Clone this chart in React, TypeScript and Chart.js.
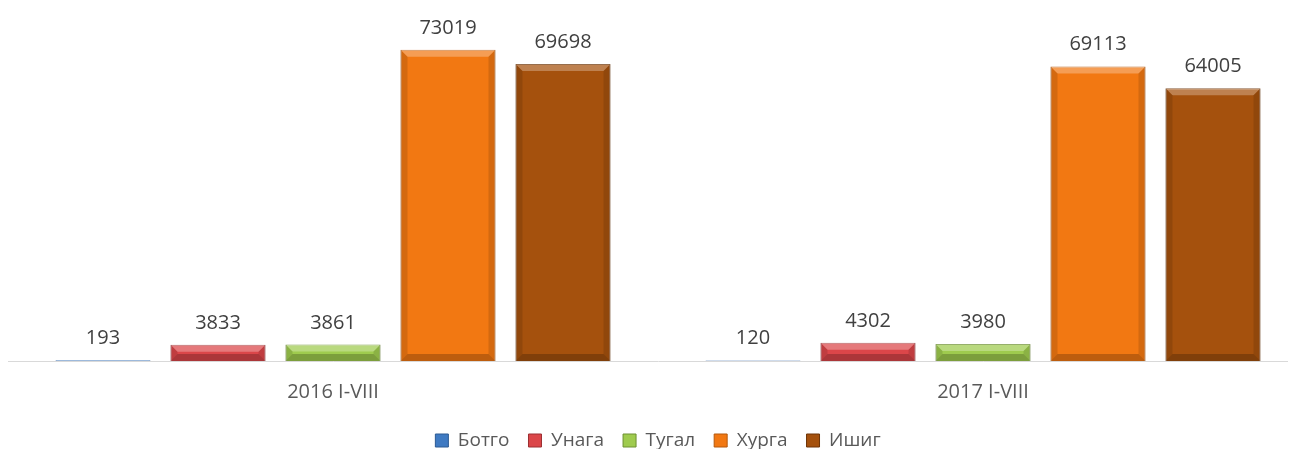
import React, { useEffect, useRef } from "react";
import { Chart, registerables } from "chart.js";

Chart.register(...registerables);

const categories = ["2016 I-VIII", "2017 I-VIII"];
const seriesNames = ["Ботго", "Унага", "Тугал", "Хурга", "Ишиг"];
const botgo = [193, 120];
const unaga = [3833, 4302];
const tugal = [3861, 3980];
const khurga = [73019, 69113];
const ishig = [69698, 64005];
const seriesColors = ["#3F7AC2", "#DB4649", "#9FCB4E", "#F27812", "#A5510D"];
const borderColors = ["#2C5A93", "#9C2F32", "#6E9132", "#B5580C", "#6E3508"];

const bevel = {
  id: "bevel",
  afterDatasetsDraw(chart: any) {
    const ctx = chart.ctx;
    ctx.save();
    chart.data.datasets.forEach((_ds: any, di: number) => {
      const meta = chart.getDatasetMeta(di);
      meta.data.forEach((el: any) => {
        const w = el.width;
        const l = el.x - w / 2;
        const r = el.x + w / 2;
        const t = Math.min(el.y, el.base);
        const b = Math.max(el.y, el.base);
        const h = b - t;
        if (h < 2) return;
        const s = Math.min(7, h / 2);
        // top highlight
        ctx.fillStyle = "rgba(255,255,255,0.28)";
        ctx.beginPath();
        ctx.moveTo(l, t);
        ctx.lineTo(r, t);
        ctx.lineTo(r - s, t + s);
        ctx.lineTo(l + s, t + s);
        ctx.closePath();
        ctx.fill();
        // sides
        ctx.fillStyle = "rgba(0,0,0,0.12)";
        ctx.beginPath();
        ctx.moveTo(l, t);
        ctx.lineTo(l + s, t + s);
        ctx.lineTo(l + s, b - s);
        ctx.lineTo(l, b);
        ctx.closePath();
        ctx.fill();
        ctx.beginPath();
        ctx.moveTo(r, t);
        ctx.lineTo(r - s, t + s);
        ctx.lineTo(r - s, b - s);
        ctx.lineTo(r, b);
        ctx.closePath();
        ctx.fill();
        // bottom shade
        ctx.fillStyle = "rgba(0,0,0,0.22)";
        ctx.beginPath();
        ctx.moveTo(l, b);
        ctx.lineTo(r, b);
        ctx.lineTo(r - s, b - s);
        ctx.lineTo(l + s, b - s);
        ctx.closePath();
        ctx.fill();
      });
    });
    ctx.restore();
  },
};

const valueLabels = {
  id: "valueLabels",
  afterDatasetsDraw(chart: any) {
    const ctx = chart.ctx;
    ctx.save();
    ctx.font = "20px 'Open Sans'";
    ctx.fillStyle = "#404040";
    ctx.textAlign = "center";
    ctx.textBaseline = "alphabetic";
    chart.data.datasets.forEach((ds: any, di: number) => {
      const meta = chart.getDatasetMeta(di);
      meta.data.forEach((el: any, i: number) => {
        ctx.fillText(String(ds.data[i]), el.x, el.y - 16);
      });
    });
    ctx.restore();
  },
};

export default function App() {
  const ref = useRef<HTMLCanvasElement>(null);
  useEffect(() => {
    if (!ref.current) return;
    const values = [botgo, unaga, tugal, khurga, ishig];
    const chart = new Chart(ref.current, {
      type: "bar",
      data: {
        labels: categories,
        datasets: seriesNames.map((name, i) => ({
          label: name,
          data: values[i],
          backgroundColor: seriesColors[i],
          borderColor: borderColors[i],
          borderWidth: 1,
          categoryPercentage: 0.8846,
          barPercentage: 0.826,
        })),
      },
      options: {
        responsive: false,
        animation: false,
        layout: { padding: { top: 12, left: 0, right: 0, bottom: 0 } },
        plugins: {
          legend: {
            position: "bottom",
            labels: {
              font: { family: "'Open Sans'", size: 19 },
              color: "#595959",
              boxWidth: 13,
              boxHeight: 13,
              padding: 19,
            },
          },
          tooltip: { enabled: false },
        },
        scales: {
          x: {
            grid: {
              display: true,
              drawOnChartArea: false,
              drawTicks: false,
              color: "rgba(0,0,0,0)",
            },
            border: { display: true, color: "#D9D9D9", width: 1 },
            ticks: {
              font: { family: "'Open Sans'", size: 20 },
              color: "#595959",
              padding: 19,
            },
            afterFit(scale: any) {
              scale.height -= 11;
            },
          },
          y: {
            display: false,
            min: 0,
            max: 80000,
          },
        },
      },
      plugins: [bevel, valueLabels],
    });
    return () => chart.destroy();
  }, []);
  return (
    <div style={{ width: 1288, height: 441, overflow: "hidden" }}>
      <canvas ref={ref} width={1300} height={452} style={{ display: "block" }} />
    </div>
  );
}
